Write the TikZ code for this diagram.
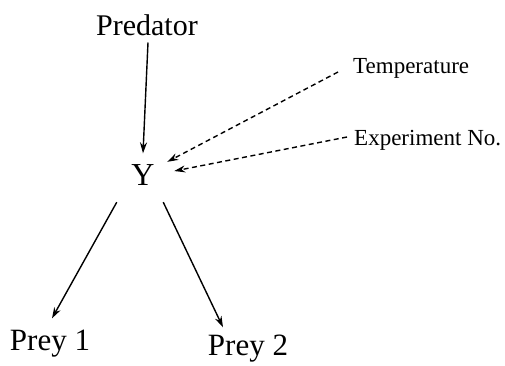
\documentclass[tikz,border=0pt]{standalone}
\usepackage{fontspec}
\setmainfont{Liberation Serif}
\usetikzlibrary{arrows.meta}
\begin{document}
\begin{tikzpicture}[x=1pt,y=-1pt,
  lbl/.style={inner sep=0pt,anchor=base},
  big/.style={lbl,font=\fontsize{30}{36}\selectfont},
  small/.style={lbl,anchor=base west,font=\fontsize{23}{27}\selectfont},
  conn/.style={line width=1.4pt,-{Stealth[length=11pt,width=7pt]}},
  dconn/.style={conn,dash pattern=on 5pt off 3.5pt}]
\useasboundingbox (0,0) rectangle (505,365);
\node[big] (pred) at (147,35) {Predator};
\node[lbl,font=\fontsize{32}{38}\selectfont] (Y) at (143,185) {Y};
\node[big,font=\fontsize{31}{37}\selectfont] (p1) at (50,350) {Prey 1};
\node[big,font=\fontsize{31}{37}\selectfont] (p2) at (248,355) {Prey 2};
\node[small] (temp) at (353,73) {Temperature};
\node[small] (exp) at (354,145) {Experiment No.};
\draw[conn] ([shift={(1,7)}]pred.south) -- ([shift={(0,-10.5)}]Y.north);
\draw[dconn] ([shift={(-15,-1)}]temp.base west) -- ([shift={(12.5,-2)}]Y.north east);
\draw[dconn] ([shift={(-7,-8)}]exp.base west) -- ([shift={(19.5,-3.5)}]Y.east);
\draw[conn] ([shift={(-14.5,17)}]Y.south west) -- ([shift={(2,-11)}]p1.north);
\draw[conn] ([shift={(8.5,17)}]Y.south east) -- ([shift={(-25,-7)}]p2.north);
\end{tikzpicture}
\end{document}
